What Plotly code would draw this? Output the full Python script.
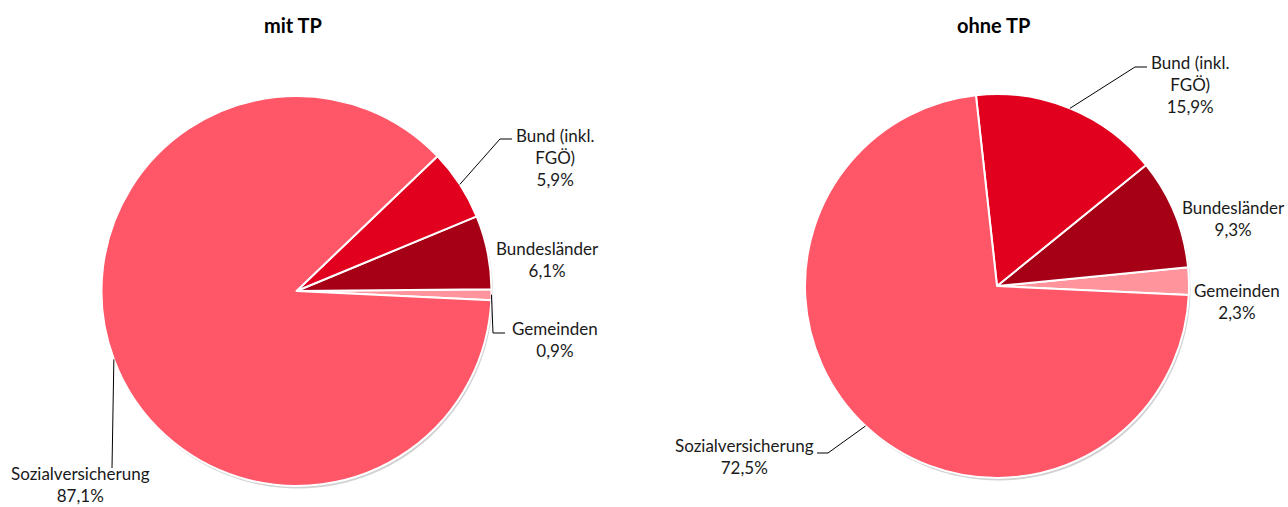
import math
import plotly.graph_objects as go

W, H = 1288, 507

categories = ["Gemeinden", "Bundesländer", "Bund (inkl. FGÖ)", "Sozialversicherung"]
label_text = ["Gemeinden", "Bundesländer", "Bund (inkl.<br>FGÖ)", "Sozialversicherung"]
mit_tp = [0.9, 6.1, 5.9, 87.1]
ohne_tp = [2.3, 9.3, 15.9, 72.5]
titles = ["mit TP", "ohne TP"]
colors = ["#FF949D", "#A50015", "#E1001E", "#FF5668"]

START_DEG = -2.7  # math angle where first slice begins (counterclockwise)
FONT = "Lato"
TXT = "#1a1a1a"


def paper(x, y):
    return x / W, 1 - y / H


def fmt(v):
    return f"{v:.1f}".replace(".", ",") + "%"


# pie geometry in pixels: (cx, cy, r)
pies = [(296.5, 291.0, 195.0), (997.0, 286.0, 192.0)]
datasets = [mit_tp, ohne_tp]

# label layout per pie: (text block center x, y, leader elbow points after the slice edge)
label_pos = [
    {
        "Gemeinden": (555, 339, [(493, 333), (505, 333)]),
        "Bundesländer": (547, 259, None),
        "Bund (inkl. FGÖ)": (555, 157, [(500, 139), (512, 139)]),
        "Sozialversicherung": (81, 484, [(112, 468)]),
    },
    {
        "Gemeinden": (1237, 301, None),
        "Bundesländer": (1233, 218, None),
        "Bund (inkl. FGÖ)": (1190, 85, [(1135, 67), (1147, 67)]),
        "Sozialversicherung": (744, 456, [(828, 453), (817, 453)]),
    },
]

fig = go.Figure()
annotations = []
shapes = []

for i, (vals, (cx, cy, r)) in enumerate(zip(datasets, pies)):
    total = sum(vals)
    x0, y1 = paper(cx - r, cy - r)
    x1, y0 = paper(cx + r, cy + r)
    # soft shadow
    sx0, sy1 = paper(cx - r + 1.5, cy - r + 2.5)
    sx1, sy0 = paper(cx + r + 1.5, cy + r + 2.5)
    fig.add_trace(go.Pie(
        values=[1], labels=["s"], sort=False, textinfo="none", hoverinfo="skip",
        marker=dict(colors=["rgba(0,0,0,0.18)"], line=dict(width=0)),
        domain=dict(x=[sx0, sx1], y=[sy0, sy1]), showlegend=False,
    ))
    # plotly (counterclockwise): rotation marks the boundary after the first slice
    first_span = vals[0] / total * 360
    fig.add_trace(go.Pie(
        values=vals, labels=categories, sort=False, direction="counterclockwise",
        rotation=90 - (START_DEG + first_span), textinfo="none",
        marker=dict(colors=colors, line=dict(color="white", width=2)),
        domain=dict(x=[x0, x1], y=[y0, y1]), showlegend=False,
    ))
    # title
    tx, ty = paper(cx - 4, 25)
    annotations.append(dict(x=tx, y=ty, xref="paper", yref="paper", text=f"<b>{titles[i]}</b>",
                            showarrow=False, font=dict(family=FONT, size=20, color="#000"),
                            xanchor="center", yanchor="middle"))
    acc = START_DEG
    for cat, lt, v in zip(categories, label_text, vals):
        span = v / total * 360
        mid = math.radians(acc + span / 2)
        acc += span
        lx, ly, path = label_pos[i][cat]
        ax, ay = paper(lx, ly)
        annotations.append(dict(x=ax, y=ay, xref="paper", yref="paper",
                                text=f"{lt}<br>{fmt(v)}", showarrow=False,
                                font=dict(family=FONT, size=17, color=TXT),
                                align="center", xanchor="center", yanchor="middle"))
        if path:
            ex = cx + r * math.cos(mid)
            ey = cy - r * math.sin(mid)
            pts = [(ex, ey)] + path
            d = "M " + " L ".join(f"{paper(px, py)[0]},{paper(px, py)[1]}" for px, py in pts)
            shapes.append(dict(type="path", path=d, xref="paper", yref="paper",
                               line=dict(color="#000", width=1)))

fig.update_layout(
    width=W, height=H, margin=dict(l=0, r=0, t=0, b=0),
    paper_bgcolor="white", plot_bgcolor="white",
    annotations=annotations, shapes=shapes,
)
fig.write_html("out.html", config={"displayModeBar": False},
               post_script="document.body.style.margin='0';document.body.style.overflow='hidden';")
